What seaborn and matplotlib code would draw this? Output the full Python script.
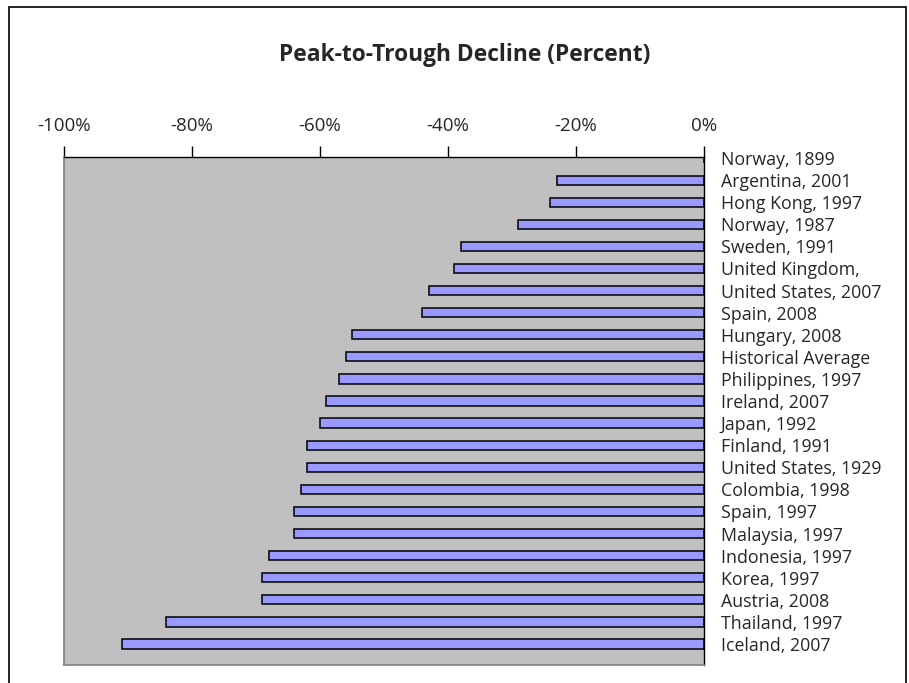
import matplotlib
matplotlib.use("Agg")
import matplotlib.pyplot as plt
import seaborn as sns
import pandas as pd
from matplotlib.ticker import FuncFormatter
from matplotlib.patches import Rectangle

# Peak-to-trough declines (percent)
episodes = ["Norway, 1899", "Argentina, 2001", "Hong Kong, 1997", "Norway, 1987",
            "Sweden, 1991", "United Kingdom,", "United States, 2007", "Spain, 2008",
            "Hungary, 2008", "Historical Average", "Philippines, 1997", "Ireland, 2007",
            "Japan, 1992", "Finland, 1991", "United States, 1929", "Colombia, 1998",
            "Spain, 1997", "Malaysia, 1997", "Indonesia, 1997", "Korea, 1997",
            "Austria, 2008", "Thailand, 1997", "Iceland, 2007"]
decline = [0, -23, -24, -29, -38, -39, -43, -44, -55, -56, -57, -59,
           -60, -62, -62, -63, -64, -64, -68, -69, -69, -84, -91]
x_ticks = [-100, -80, -60, -40, -20, 0]

df = pd.DataFrame({"episode": episodes, "decline": decline})

sns.set_style("white")
plt.rcParams["font.family"] = ["Open Sans", "DejaVu Sans"]

fig = plt.figure(figsize=(9.09, 6.83), dpi=100)
ax = fig.add_axes([0.0704, 0.0264, 0.7041, 0.7438])
ax.set_facecolor("#c0c0c0")

sns.barplot(data=df, x="decline", y="episode", orient="h", color="#9999ff",
            saturation=1, edgecolor="black", linewidth=1.1, width=0.42, ax=ax)

ax.set_xlim(-100, 0)
ax.set_ylim(22.95, -0.05)
ax.set_xticks(x_ticks)
ax.xaxis.set_major_formatter(FuncFormatter(lambda v, p: f"{v:.0f}%"))
ax.xaxis.tick_top()
ax.tick_params(axis="x", direction="out", length=8, width=1, color="black",
               labelsize=13.5, pad=8, top=True, bottom=False)
ax.yaxis.tick_right()
ax.tick_params(axis="y", length=0, labelsize=12.8, pad=12)
for lab in ax.get_yticklabels():
    lab.set_horizontalalignment("left")
ax.set_xlabel("")
ax.set_ylabel("")

for side in ["left", "bottom"]:
    ax.spines[side].set_color("#808080")
    ax.spines[side].set_linewidth(1.2)
for side in ["top", "right"]:
    ax.spines[side].set_color("black")
    ax.spines[side].set_linewidth(1)

fig.text(465 / 909, 1 - 55 / 683, "Peak-to-Trough Decline (Percent)",
         ha="center", va="center", fontsize=16.4, fontweight="bold")

# outer chart border
fig.patches.append(Rectangle((9 / 909, -0.01), 897 / 909, 1 - 7 / 683 + 0.01,
                             transform=fig.transFigure, fill=False,
                             edgecolor="black", linewidth=1.2))

fig.savefig("out.png", dpi=100)
